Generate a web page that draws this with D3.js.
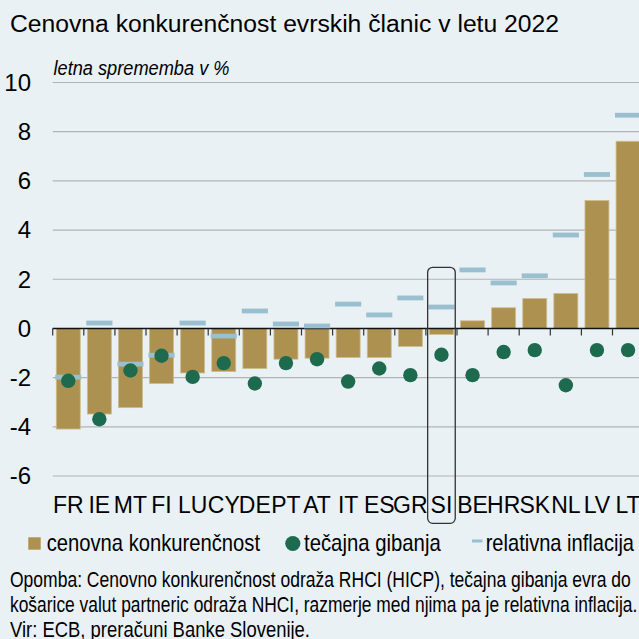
<!DOCTYPE html>
<html>
<head>
<meta charset="utf-8">
<script src="https://cdn.jsdelivr.net/npm/d3@7"></script>
<style>
    html, body { margin: 0; padding: 0; background: #e9f1f5; }
    svg { display: block; }
    text { font-family: "Liberation Sans Narrow", "Arial Narrow", "Liberation Sans", sans-serif; fill: #000; }
</style>
</head>
<body>
<svg width="639" height="639"></svg>
<script>
// data (annual change in %)
const countries = ['FR', 'IE', 'MT', 'FI', 'LU', 'CY', 'DE', 'PT', 'AT', 'IT', 'ES', 'GR', 'SI', 'BE', 'HR', 'SK', 'NL', 'LV', 'LT'];
const priceComp = [-4.09, -3.48, -3.22, -2.24, -1.81, -1.75, -1.63, -1.25, -1.21, -1.18, -1.18, -0.73, -0.24, 0.31, 0.84, 1.22, 1.42, 5.2, 7.61];
const exchange = [-2.13, -3.69, -1.71, -1.11, -1.97, -1.41, -2.24, -1.41, -1.25, -2.16, -1.63, -1.9, -1.07, -1.9, -0.96, -0.88, -2.31, -0.88, -0.88];
const relInfl = [-1.98, 0.22, -1.45, -1.09, 0.22, -0.31, 0.71, 0.18, 0.1, 0.99, 0.55, 1.24, 0.87, 2.38, 1.85, 2.14, 3.8, 6.26, 8.67];
const yTicks = [-6, -4, -2, 0, 2, 4, 6, 8, 10];
const highlight = 'SI';

const title = 'Cenovna konkurenčnost evrskih članic v letu 2022';
const subtitle = 'letna sprememba v %';
const legendNames = ['cenovna konkurenčnost', 'tečajna gibanja', 'relativna inflacija'];
const notes = [
    'Opomba: Cenovno konkurenčnost odraža RHCI (HICP), tečajna gibanja evra do',
    'košarice valut partneric odraža NHCI, razmerje med njima pa je relativna inflacija.',
    'Vir: ECB, preračuni Banke Slovenije.'
];

const BAR_COLOR = '#ad9150',
    BAR_EDGE = '#cdbb8c',
    DOT_COLOR = '#1d6a4f',
    DASH_COLOR = '#9abfcf',
    GRID_COLOR = '#b3b3b3';

const svg = d3.select('svg');

const x = d3.scaleBand()
    .domain(countries)
    .range([52.7, 643.6])
    .padding(0);

const y = d3.scaleLinear()
    .domain([-6, 10])
    .range([476, 82.5]);

const step = x.step();
const barW = step * 0.77;
const dashW = step * 0.84;

// title + subtitle
svg.append('text')
    .attr('x', 10).attr('y', 31.7)
    .style('font-family', '"Liberation Sans", Arial, sans-serif')
    .attr('font-size', 23.5)
    .attr('textLength', 549).attr('lengthAdjust', 'spacingAndGlyphs')
    .text(title);

svg.append('text')
    .attr('x', 53.5).attr('y', 75)
    .attr('font-size', 20)
    .attr('font-style', 'italic')
    .attr('textLength', 176).attr('lengthAdjust', 'spacingAndGlyphs')
    .text(subtitle);

// gridlines
svg.append('g')
    .selectAll('line')
    .data(yTicks.filter(d => d !== 0))
    .join('line')
    .attr('x1', 52.7).attr('x2', 639)
    .attr('y1', d => y(d)).attr('y2', d => y(d))
    .attr('stroke', GRID_COLOR)
    .attr('stroke-width', 1.2);

// y labels
svg.append('g')
    .selectAll('text')
    .data(yTicks)
    .join('text')
    .attr('x', 31)
    .attr('y', d => y(d))
    .attr('dy', '0.35em')
    .attr('text-anchor', 'end')
    .attr('font-size', 24)
    .text(d => d);

// bars
svg.append('g')
    .selectAll('rect')
    .data(priceComp)
    .join('rect')
    .attr('x', (d, i) => x(countries[i]) + (step - barW) / 2)
    .attr('y', d => y(Math.max(0, d)))
    .attr('width', barW)
    .attr('height', d => Math.abs(y(d) - y(0)))
    .attr('fill', BAR_COLOR)
    .attr('stroke', BAR_EDGE)
    .attr('stroke-width', 0.8);

// zero axis + ticks between categories
svg.append('line')
    .attr('x1', 52.7).attr('x2', 639)
    .attr('y1', y(0)).attr('y2', y(0))
    .attr('stroke', '#111')
    .attr('stroke-width', 1.4);

svg.append('g')
    .selectAll('line')
    .data(countries)
    .join('line')
    .attr('x1', d => x(d)).attr('x2', d => x(d))
    .attr('y1', y(0)).attr('y2', y(0) + 7)
    .attr('stroke', '#333')
    .attr('stroke-width', 1.2);

// relative inflation dashes
svg.append('g')
    .selectAll('rect')
    .data(relInfl)
    .join('rect')
    .attr('x', (d, i) => x(countries[i]) + (step - dashW) / 2)
    .attr('y', d => y(d) - 2.4)
    .attr('width', dashW)
    .attr('height', 4.8)
    .attr('fill', DASH_COLOR);

// exchange rate dots
svg.append('g')
    .selectAll('circle')
    .data(exchange)
    .join('circle')
    .attr('cx', (d, i) => x(countries[i]) + step / 2)
    .attr('cy', d => y(d))
    .attr('r', 7.2)
    .attr('fill', DOT_COLOR);

// x labels
svg.append('g')
    .selectAll('text')
    .data(countries)
    .join('text')
    .attr('x', d => x(d) + step / 2)
    .attr('y', 513.3)
    .attr('text-anchor', 'middle')
    .attr('font-size', 23)
    .text(d => d);

// highlight box around SI
const hx = x(highlight) + step / 2;
svg.append('rect')
    .attr('x', hx - 13.8).attr('y', 267.3)
    .attr('width', 27.6).attr('height', 256)
    .attr('rx', 5).attr('ry', 5)
    .attr('fill', 'none')
    .attr('stroke', '#333')
    .attr('stroke-width', 1.3);

// legend
const lg = svg.append('g');
lg.append('rect')
    .attr('x', 28.3).attr('y', 537.3)
    .attr('width', 12.4).attr('height', 12.4)
    .attr('fill', BAR_COLOR);
lg.append('circle')
    .attr('cx', 292.8).attr('cy', 543.5).attr('r', 7.6)
    .attr('fill', DOT_COLOR);
lg.append('rect')
    .attr('x', 472).attr('y', 539.5)
    .attr('width', 10.5).attr('height', 3)
    .attr('fill', DASH_COLOR);

const legendPos = [[46.7, 213.3], [304, 136.7], [485.7, 148.3]];
lg.selectAll('text.leg')
    .data(legendNames)
    .join('text')
    .attr('class', 'leg')
    .attr('x', (d, i) => legendPos[i][0])
    .attr('y', 550.7)
    .attr('font-size', 24)
    .attr('textLength', (d, i) => legendPos[i][1])
    .attr('lengthAdjust', 'spacingAndGlyphs')
    .text(d => d);

// footnote
const noteLen = [620.7, 627.3, 300];
svg.append('g')
    .selectAll('text')
    .data(notes)
    .join('text')
    .attr('x', 10)
    .attr('y', (d, i) => 587.3 + i * 25)
    .attr('font-size', 22.5)
    .attr('textLength', (d, i) => noteLen[i])
    .attr('lengthAdjust', 'spacingAndGlyphs')
    .text(d => d);
</script>
</body>
</html>
